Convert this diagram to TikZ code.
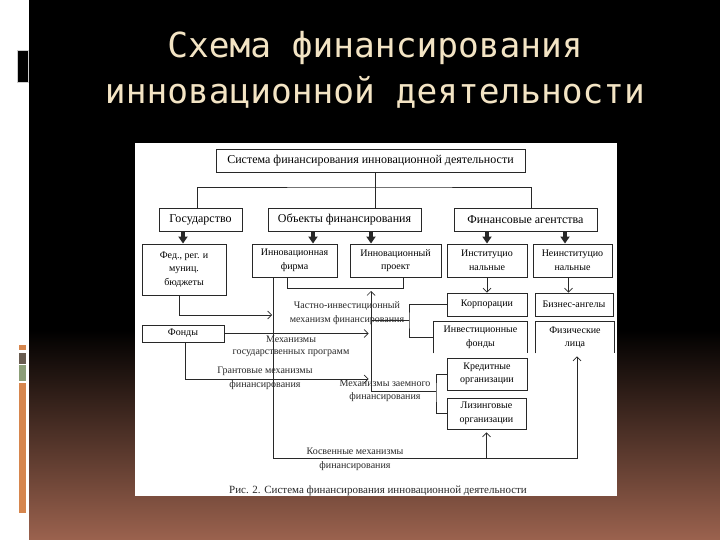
\documentclass[tikz,border=0pt]{standalone}
\usepackage{fontspec}
\setmainfont{Liberation Serif}
\newfontfamily\titlefont{DejaVu Sans Mono}
\usetikzlibrary{arrows.meta,calc}
\definecolor{ink}{RGB}{40,40,40}
\definecolor{cream}{RGB}{243,228,196}
\definecolor{rust}{RGB}{155,98,78}
\definecolor{barorange}{RGB}{214,134,78}
\definecolor{bargrey}{RGB}{105,92,80}
\definecolor{barsage}{RGB}{140,158,120}

\begin{document}
\begin{tikzpicture}[
    x=1pt, y=-1pt,
    headline/.style={align=center, text=cream,
        font=\titlefont\fontsize{34.5}{46}\selectfont},
    mainbox/.style={rectangle, draw=ink, line width=0.9pt, minimum height=23pt,
        inner sep=1pt, font=\fontsize{12}{14}\selectfont},
    unit/.style={rectangle, draw=ink, line width=0.9pt, align=center,
        inner sep=1pt, font=\fontsize{10}{13.5}\selectfont},
    mech/.style={align=center, inner sep=0pt, text=ink,
        font=\fontsize{10}{14}\selectfont},
    fat/.style={-{Triangle[width=9pt,length=7pt]}, line width=3.2pt, draw=ink},
    arrow/.style={-{Straight Barb[length=4pt,width=8pt]}, line width=0.7pt, draw=ink},
    link/.style={line width=0.7pt, draw=ink}
]
\useasboundingbox (0,0) rectangle (720,540);

% slide background
\fill[white] (0,0) rectangle (720,540);
\fill[black] (29,0) rectangle (720,330);
\shade[top color=black, bottom color=rust] (29,330) rectangle (720,540);
\draw[gray!40, line width=0.6pt, fill=black] (17,50) rectangle (28,82);
\fill[barorange] (19,345) rectangle (26,350);
\fill[bargrey] (19,353) rectangle (26,364);
\fill[barsage] (19,365) rectangle (26,381);
\fill[barorange] (19,383) rectangle (26,513);
\fill[white] (135,143) rectangle (617,496);

\node[headline] (ttl) at (375,70) {Схема финансирования\\инновационной деятельности};

% top levels
\node[mainbox, minimum width=309pt] (sys) at (370.5,160.5) {Система финансирования инновационной деятельности};
\node[mainbox, minimum width=83pt] (gos) at (200.5,219.5) {Государство};
\node[mainbox, minimum width=153pt] (obj) at (344.5,219.5) {Объекты финансирования};
\node[mainbox, minimum width=143pt] (fin) at (525.5,219.5) {Финансовые агентства};

% third row
\node[unit, minimum width=84pt, minimum height=51pt] (budg) at (184,269.5) {Фед., рег. и\\муниц.\\бюджеты};
\node[unit, minimum width=85pt, minimum height=33pt] (firm) at (294.5,260.5) {Инновационная\\фирма};
\node[unit, minimum width=91pt, minimum height=33pt] (proj) at (395.5,260.5) {Инновационный\\проект};
\node[unit, minimum width=80pt, minimum height=33pt] (inst) at (487,260.5) {Институцио\\нальные};
\node[unit, minimum width=79pt, minimum height=33pt] (neinst) at (572.5,260.5) {Неинституцио\\нальные};

% agents
\node[unit, minimum width=80pt, minimum height=23pt] (korp) at (487,304.5) {Корпорации};
\node[unit, minimum width=78pt, minimum height=23pt] (bang) at (574,304.5) {Бизнес-ангелы};
\node[unit, draw=none, minimum width=93pt, minimum height=31pt] (invf) at (480.5,337.5) {Инвестиционные\\фонды};
\node[unit, draw=none, minimum width=78pt, minimum height=31pt] (fizl) at (575,337.5) {Физические\\лица};
\node[unit, minimum width=80pt, minimum height=32pt] (kred) at (487,374) {Кредитные\\организации};
\node[unit, minimum width=79pt, minimum height=31pt] (liz) at (486.5,413.5) {Лизинговые\\организации};
\node[unit, minimum width=82pt, minimum height=17pt] (fondy) at (183,333.5) {Фонды};

\draw[ink, line width=0.9pt] (invf.south west) -- (invf.north west) -- (invf.north east) -- (invf.south east);
\draw[ink, line width=0.9pt] (fizl.south west) -- (fizl.north west) -- (fizl.north east) -- (fizl.south east);

% helper points
\coordinate (bus) at (375,187);
\coordinate (zv) at (371,288);
\coordinate (zb) at (436,391);
\coordinate (pb) at (409,320);
\coordinate (by) at (0,315);
\coordinate (gy) at (0,379);
\coordinate (ky) at (0,458);
\coordinate (fa) at ([xshift=18.5pt]firm.north);
\coordinate (pa) at ([xshift=-24.5pt]proj.north);
\coordinate (na) at ([xshift=-7.5pt]neinst.north);
\coordinate (nb) at ([xshift=-4pt]neinst.south);
\coordinate (ba) at ([xshift=-1pt]budg.north);
\coordinate (fl) at ([xshift=-7pt]firm.south);
\coordinate (pr) at ([xshift=8pt]proj.south);
\coordinate (kt) at ([xshift=-21pt]firm.south);
\coordinate (bl) at ([xshift=-5pt]budg.south);
\coordinate (gl) at ([xshift=2pt]fondy.south);
\coordinate (fx) at ([xshift=2pt]fizl.south);

% tree
\draw[link] (bus |- sys.south) -- (bus);
\draw[link] ([xshift=-3.5pt]gos.north) |- (bus) -| ([xshift=5.5pt]fin.north);
\draw[link] (bus) -- (bus |- obj.north);

\draw[fat] (ba |- gos.south) -- (ba);
\draw[fat] (fa |- obj.south) -- (fa);
\draw[fat] (pa |- obj.south) -- (pa);
\draw[fat] (inst.north |- fin.south) -- (inst.north);
\draw[fat] (na |- fin.south) -- (na);

\draw[arrow] (inst.south) -- (korp.north);
\draw[arrow] (nb) -- (nb |- bang.north);

% mechanisms
\draw[link] (fl) -- (fl |- zv) -- (pr |- zv) -- (pr);
\draw[link] (kred.west) -| (zb) |- (liz.west);
\draw[arrow] (zb) -- (zb -| zv) -- ([yshift=-3pt]zv);
\draw[link] (korp.west) -| (pb) |- (invf.west);
\draw[link] (pb) -- (pb -| zv);
\draw[arrow, shorten >=2.5pt] (fondy.east) -- (fondy.east -| zv);
\draw[arrow, shorten >=2.5pt] (gl) |- (zv |- gy);
\draw[arrow, shorten >=1.5pt] (bl) |- (kt |- by);
\draw[arrow, shorten >=3pt] (kt) |- (fx |- ky) -- (fx);
\draw[arrow, shorten >=3pt] (liz.south |- ky) -- (liz.south);

\node[mech] (lchast) at (347,313) {Частно-инвестиционный\\механизм финансирования};
\node[mech, font=\fontsize{10}{12}\selectfont] (lgos) at (291,346) {Механизмы\\государственных программ};
\node[mech] (lgrant) at (265,378) {Грантовые механизмы\\финансирования};
\node[mech, font=\fontsize{10}{13}\selectfont] (lzaem) at (385,390.5) {Механизмы заемного\\финансирования};
\node[mech] (lkosv) at (355,459) {Косвенные механизмы\\финансирования};
\node[text=ink, font=\fontsize{11}{13}\selectfont] (cap) at (378,491) {Рис. 2. Система финансирования инновационной деятельности};

\end{tikzpicture}
\end{document}
